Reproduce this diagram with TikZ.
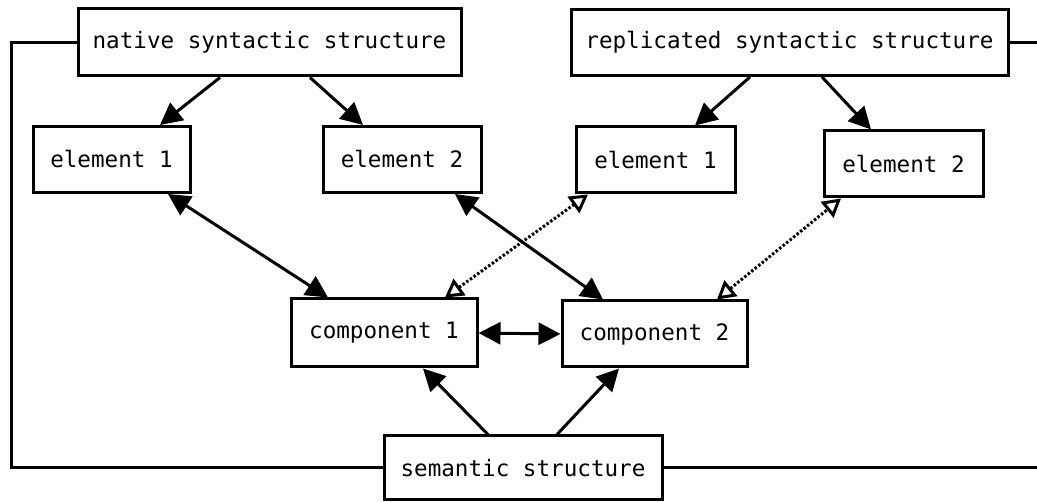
\documentclass[tikz,border=0pt]{standalone}
\usepackage{fontspec}
\setmonofont{DejaVu Sans Mono}
\usetikzlibrary{arrows.meta,calc}
\begin{document}
\begin{tikzpicture}[x=1pt,y=-1pt,
  box/.style={draw,line width=3pt,rectangle,inner sep=0pt,font=\ttfamily\fontsize{22.6}{26}\selectfont},
  conn/.style={line width=3pt},
  fa/.style={-{Triangle[length=22pt,width=22pt]}},
  fab/.style={{Triangle[length=22pt,width=22pt]}-{Triangle[length=22pt,width=22pt]}},
  otip/.style={},
  oab/.style={{Triangle[open,length=18pt,width=20pt,line width=3pt]}-{Triangle[open,length=18pt,width=20pt,line width=3pt]},dash pattern=on 2.5pt off 2pt,line width=3pt}]
\useasboundingbox (0,0) rectangle (1037,502);
\node[box,minimum width=383pt,minimum height=67pt] (nat) at (269.5,42.5) {native syntactic structure};
\node[box,minimum width=437pt,minimum height=66pt] (rep) at (789.5,42.5) {replicated syntactic structure};
\node[box,minimum width=157pt,minimum height=66pt] (e1L) at (111.5,159.5) {element 1};
\node[box,minimum width=158pt,minimum height=66pt] (e2L) at (402,159.5) {element 2};
\node[box,minimum width=159pt,minimum height=66pt] (e1R) at (655.5,160) {element 1};
\node[box,minimum width=159pt,minimum height=66pt] (e2R) at (903.5,164) {element 2};
\node[box,minimum width=186pt,minimum height=68pt] (c1) at (384,333) {component 1};
\node[box,minimum width=185pt,minimum height=66pt] (c2) at (654.5,334) {component 2};
\node[box,minimum width=278pt,minimum height=64pt] (sem) at (523,468) {semantic structure};
\coordinate (L) at (11,0);
\coordinate (R) at (1040,0);
% tree arrows
\draw[conn,fa] ($(nat.south)+(-49.5,0)$) -- ($(e1L.north)+(48.5,0)$);
\draw[conn,fa] ($(nat.south)+(40.5,0)$) -- ($(e2L.north)+(-39,0)$);
\draw[conn,fa] ($(rep.south)+(-39.5,0)$) -- ($(e1R.north)+(39.5,0)$);
\draw[conn,fa] ($(rep.south)+(32.5,0)$) -- ($(e2R.north)+(-32.5,0)$);
% element-component
\draw[conn,fab] ($(e1L.south)+(56.5,0)$) -- ($(c1.north)+(-56,0)$);
\draw[conn,fab] ($(e2L.south)+(53,0)$) -- ($(c2.north)+(-51.5,0)$);
\draw[oab] ($(c1.north)+(61,0)$) -- ($(e1R.south)+(-67.5,0)$);
\draw[oab] ($(c2.north)+(62.5,0)$) -- ($(e2R.south)+(-62.5,0)$);
\draw[conn,fab] (c1.east) -- (c2.west);
% semantic
\draw[conn,fa] ($(sem.north)+(-35,0)$) -- ($(c1.south)+(39,0)$);
\draw[conn,fa] ($(sem.north)+(34,0)$) -- ($(c2.south)+(-35.5,0)$);
% frame lines
\draw[conn] (nat.west) -- (nat.west -| L) |- (sem.west);
\draw[conn] (rep.east) -- (rep.east -| R);
\draw[conn] (sem.east) -- (sem.east -| R);
\end{tikzpicture}
\end{document}
